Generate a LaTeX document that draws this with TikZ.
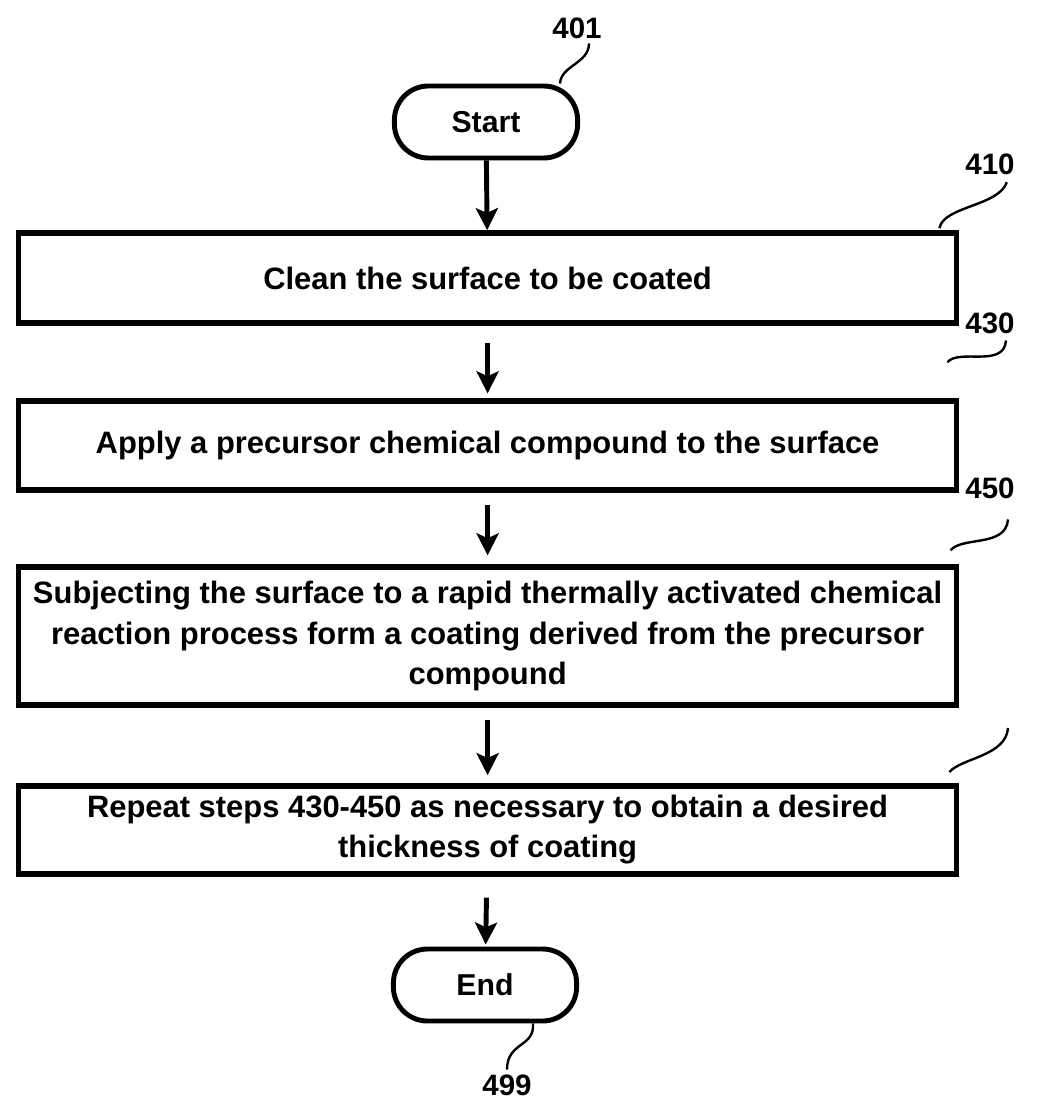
\documentclass[tikz,border=0pt]{standalone}
\usepackage{fontspec}
\setmainfont{Liberation Sans}
\usepackage{tikz}
\usetikzlibrary{arrows.meta,positioning}
\tikzset{
  stepbox/.style={draw,line width=4pt,minimum width=23.45cm,align=center,font=\fontsize{22}{28.5}\selectfont\bfseries},
  termnode/.style={draw,line width=3.5pt,rounded corners=0.85cm,minimum width=4.58cm,minimum height=1.8cm,font=\fontsize{21.5}{25}\selectfont\bfseries},
  refnum/.style={font=\fontsize{21}{25}\selectfont\bfseries},
  leader/.style={line width=1.7pt},
  flow/.style={line width=3.5pt,-{Stealth[length=0.55cm,width=0.55cm,inset=0.12cm]}}
}

\begin{document}
\begin{tikzpicture}
      \useasboundingbox (0,0) rectangle (25.975,-27.625);

      \node[termnode] at (12.15,-3.05) (start) {Start};
      \node[stepbox,minimum height=2.25cm] at (12.19,-6.95) (b410) {Clean the surface to be coated};
      \node[stepbox,minimum height=2.23cm] at (12.19,-11.14) (b430) {Apply a precursor chemical compound to the surface};
      \node[stepbox,minimum height=3.45cm] at (12.19,-15.9) (b450) {Subjecting the surface to a rapid thermally activated chemical\\reaction process form a coating derived from the precursor\\compound};
      \node[stepbox,minimum height=2.2cm] at (12.19,-20.75) (b470) {Repeat steps 430-450 as necessary to obtain a desired\\thickness of coating};
      \node[termnode] at (12.125,-24.625) (end) {End};

      \draw[flow] (start)--(b410);
      \draw[flow,shorten <=0.42cm,shorten >=0.12cm] (b410)--(b430);
      \draw[flow,shorten <=0.3cm,shorten >=0.22cm] (b430)--(b450);
      \draw[flow,shorten <=0.3cm,shorten >=0.2cm] (b450)--(b470);
      \draw[flow,shorten <=0.52cm,shorten >=0.05cm] (b470)--(end);

      % reference numbers
      \node[refnum] at (14.425,-0.7) (n401) {401};
      \node[refnum] at (24.75,-4.1) (n410) {410};
      \node[refnum] at (24.75,-8.075) (n430) {430};
      \node[refnum] at (24.75,-12.2) (n450) {450};
      \node[refnum] at (12.675,-27.125) (n499) {499};
      \coordinate (c470) at (25.2,-18.2);

      \draw[leader] ([xshift=1.85cm]start.north) .. controls +(0.02,0.45) and +(0,-0.5) .. ([xshift=0.3cm]n401.south);
      \draw[leader] ([xshift=-0.5cm,yshift=0.05cm]b410.north east) .. controls +(0.1,0.55) and +(-0.2,-0.6) .. ([xshift=0.42cm,yshift=-0.07cm]n410.south);
      \draw[leader] ([xshift=-0.3cm,yshift=0.9cm]b430.north east) .. controls +(0.3,0.35) and +(-0.05,-0.7) .. ([xshift=0.4cm,yshift=-0.05cm]n430.south);
      \draw[leader] ([xshift=-0.22cm,yshift=0.35cm]b450.north east) .. controls +(0.3,0.35) and +(-0.05,-0.7) .. ([xshift=0.45cm,yshift=-0.4cm]n450.south);
      \draw[leader] ([xshift=-0.25cm,yshift=0.28cm]b470.north east) .. controls +(0.3,0.35) and +(-0.05,-0.7) .. (c470);
      \draw[leader] ([xshift=1.2cm]end.south) .. controls +(0.05,-0.6) and +(0,0.7) .. (n499.north);
    \end{tikzpicture}
\end{document}
